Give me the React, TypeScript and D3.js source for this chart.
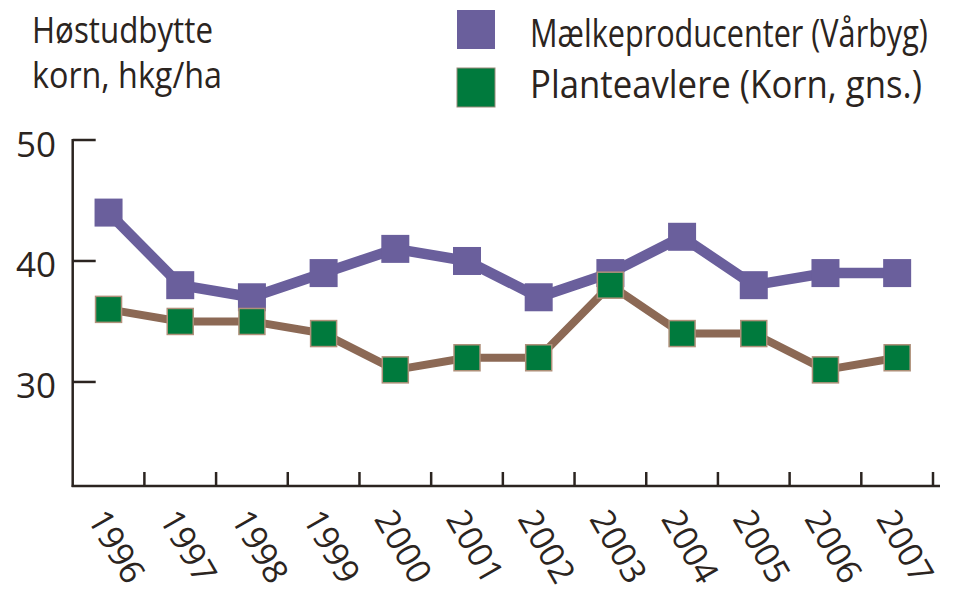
import React from 'react';
import * as d3 from 'd3';

// chart data
const years = ['1996', '1997', '1998', '1999', '2000', '2001', '2002', '2003', '2004', '2005', '2006', '2007'];
const maelkeproducenter = [44, 38, 37, 39, 41, 40, 37, 39, 42, 38, 39, 39];
const planteavlere = [36, 35, 35, 34, 31, 32, 32, 38, 34, 34, 31, 32];
const yTicks = [30, 40, 50];
const seriesNames = ['Mælkeproducenter (Vårbyg)', 'Planteavlere (Korn, gns.)'];
const titleLines = ['Høstudbytte', 'korn, hkg/ha'];

const ink = '#2b2420';
const purple = '#6a5f9c';
const green = '#007a3d';
const brown = '#8c6955';
const font = '"Open Sans", "DejaVu Sans", sans-serif';

// the original uses a condensed face, so squeeze text horizontally to the measured width
function FitText({ x, y, width, children }: { x: number; y: number; width: number; children: string }) {
  const ref = React.useRef<SVGTextElement>(null);
  const [s, setS] = React.useState(1);
  React.useLayoutEffect(() => {
    const w = ref.current ? ref.current.getComputedTextLength() : 0;
    if (w > 0) setS(width / w);
  }, [width, children]);
  return (
    <text ref={ref} transform={`translate(${x},${y}) scale(${s},1)`}>
      {children}
    </text>
  );
}

export default function App() {
  const width = 955;
  const height = 597;
  const left = 72.7;
  const right = 933;
  const top = 140;
  const bottom = 486;

  // x: one band per year, ticks sit on band edges
  const x = d3.scaleBand<string>().domain(years).range([left, right]).padding(0);
  const cx = (d: string) => (x(d) as number) + x.bandwidth() / 2;
  // y: axis floor is a bit below 22
  const y = d3.scaleLinear().domain([21.4, 50]).range([bottom, top]);

  const line = d3.line<number>()
    .x((_, i) => cx(years[i]))
    .y((d) => y(d));

  const mk = 28; // marker size

  return (
    <svg width={width} height={height} style={{ position: 'absolute', left: 0, top: 0, background: '#fff' }}>
      {/* title */}
      <g fontFamily={font} fontSize={36} fill={ink}>
        <FitText x={32} y={43} width={181}>{titleLines[0]}</FitText>
        <FitText x={32} y={88} width={190}>{titleLines[1]}</FitText>
      </g>

      {/* legend */}
      <g fontFamily={font} fontSize={38} fill={ink}>
        <rect x={457} y={10} width={38} height={39} fill={purple} />
        <FitText x={530} y={47} width={398}>{seriesNames[0]}</FitText>
        <rect x={457} y={68} width={38} height={39} fill={green} stroke="#9a8a7a" strokeWidth={1} />
        <FitText x={530} y={98} width={392}>{seriesNames[1]}</FitText>
      </g>

      {/* y axis */}
      <g stroke={ink} strokeWidth={2.5}>
        <line x1={left} x2={left} y1={y(50) - 1} y2={bottom + 1} />
        {yTicks.map((t) => (
          <line key={t} x1={left} x2={left + 23} y1={y(t)} y2={y(t)} />
        ))}
      </g>
      <g fontFamily={font} fontSize={35} fill={ink} textAnchor="end">
        {yTicks.map((t) => (
          <text key={t} x={56} y={y(t) + 3} dominantBaseline="central">{t}</text>
        ))}
      </g>

      {/* x axis */}
      <g stroke={ink} strokeWidth={2.5}>
        <line x1={left - 1} x2={940} y1={bottom} y2={bottom} />
        {years.map((d) => (
          <line key={d} x1={(x(d) as number) + x.bandwidth()} x2={(x(d) as number) + x.bandwidth()} y1={bottom} y2={bottom - 14} />
        ))}
      </g>
      <g fontFamily={font} fontSize={34} fill={ink}>
        {years.map((d) => (
          <text
            key={d}
            transform={`translate(${cx(d) + 9},546) rotate(60)`}
            textAnchor="middle"
            dominantBaseline="central"
          >
            {d}
          </text>
        ))}
      </g>

      {/* Mælkeproducenter */}
      <path d={line(maelkeproducenter) as string} fill="none" stroke={purple} strokeWidth={10.5} strokeLinejoin="round" />
      {maelkeproducenter.map((v, i) => (
        <rect key={i} x={cx(years[i]) - mk / 2} y={y(v) - mk / 2} width={mk} height={mk} fill={purple} />
      ))}

      {/* Planteavlere */}
      <path d={line(planteavlere) as string} fill="none" stroke={brown} strokeWidth={8} strokeLinejoin="round" />
      {planteavlere.map((v, i) => (
        <rect key={i} x={cx(years[i]) - 13} y={y(v) - 13} width={26} height={26} fill={green} stroke="#b0907a" strokeWidth={1.5} />
      ))}
    </svg>
  );
}
